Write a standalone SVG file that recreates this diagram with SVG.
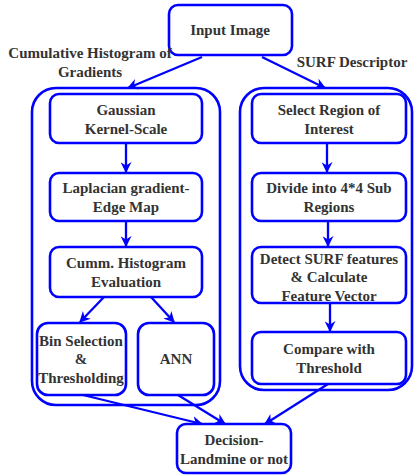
<svg xmlns="http://www.w3.org/2000/svg" width="414" height="475" viewBox="0 0 414 475">
<style>
.b{fill:#fff;stroke:#0000ff;stroke-width:2.6}
.c{fill:none;stroke:#0000ff;stroke-width:2.6}
.e{fill:none;stroke:#0000ff;stroke-width:2.3;marker-end:url(#ah)}
text{font-family:"Liberation Serif","Times New Roman",serif;font-weight:bold;font-size:15px;fill:#333;text-anchor:middle}
</style>
<defs>
<marker id="ah" viewBox="0 0 10 10" refX="9" refY="5" markerWidth="11" markerHeight="11" markerUnits="userSpaceOnUse" orient="auto">
<path d="M0,0 L10,5 L0,10 L3,5 Z" fill="#0000ff"/>
</marker>
</defs>
<g id="containers">
<rect id="left-group" class="c" x="32" y="88" width="188" height="317" rx="24"/>
<rect id="right-group" class="c" x="240" y="88" width="172" height="302" rx="24"/>
</g>
<g id="connectors">
<path class="e" d="M202,57 L128,88"/>
<path class="e" d="M262,57 L325,88"/>
<path class="e" d="M126,143 L126,172"/>
<path class="e" d="M327,143 L327,172"/>
<path class="e" d="M126,221 L126,246"/>
<path class="e" d="M328,221 L328,246"/>
<path class="e" d="M104,297 L80,322"/>
<path class="e" d="M151,297 L174,322"/>
<path class="e" d="M330,303 L330,331"/>
<path class="e" d="M83,395 L202,424"/>
<path class="e" d="M178,395 L225,424"/>
<path class="e" d="M328,384 L265,424"/>
</g>
<g id="input"><rect class="b" x="169" y="5" width="123" height="50" rx="9"/><text x="230" y="35">Input Image</text></g>
<g id="gaussian"><rect class="b" x="50" y="94" width="152" height="49" rx="9"/><text x="126" y="115">Gaussian</text><text x="126" y="134">Kernel-Scale</text></g>
<g id="laplacian"><rect class="b" x="50" y="173" width="152" height="48" rx="9"/><text x="126" y="193">Laplacian gradient-</text><text x="126" y="212">Edge Map</text></g>
<g id="cumm"><rect class="b" x="50" y="247" width="152" height="50" rx="9"/><text x="126" y="268">Cumm. Histogram</text><text x="126" y="287">Evaluation</text></g>
<g id="bin"><rect class="b" x="37" y="323" width="89" height="72" rx="11"/><text x="81" y="346">Bin Selection</text><text x="81" y="364">&amp;</text><text x="81" y="383">Thresholding</text></g>
<g id="ann"><rect class="b" x="138" y="323" width="76" height="72" rx="11"/><text x="176" y="364">ANN</text></g>
<g id="select"><rect class="b" x="252" y="94" width="154" height="49" rx="9"/><text x="329" y="115">Select Region of</text><text x="329" y="134">Interest</text></g>
<g id="divide"><rect class="b" x="252" y="173" width="154" height="48" rx="9"/><text x="329" y="193">Divide into 4*4 Sub</text><text x="329" y="212">Regions</text></g>
<g id="detect"><rect class="b" x="252" y="247" width="154" height="56" rx="9"/><text x="329" y="264">Detect SURF features</text><text x="329" y="282">&amp; Calculate</text><text x="329" y="301">Feature Vector</text></g>
<g id="compare"><rect class="b" x="252" y="332" width="154" height="52" rx="9"/><text x="329" y="354">Compare with</text><text x="329" y="373">Threshold</text></g>
<g id="decision"><rect class="b" x="177" y="424" width="114" height="49" rx="9"/><text x="234" y="445">Decision-</text><text x="234" y="464">Landmine or not</text></g>
<g id="labels">
<text x="90" y="58">Cumulative Histogram of</text>
<text x="90" y="77">Gradients</text>
<text x="352" y="67">SURF Descriptor</text>
</g>
</svg>
